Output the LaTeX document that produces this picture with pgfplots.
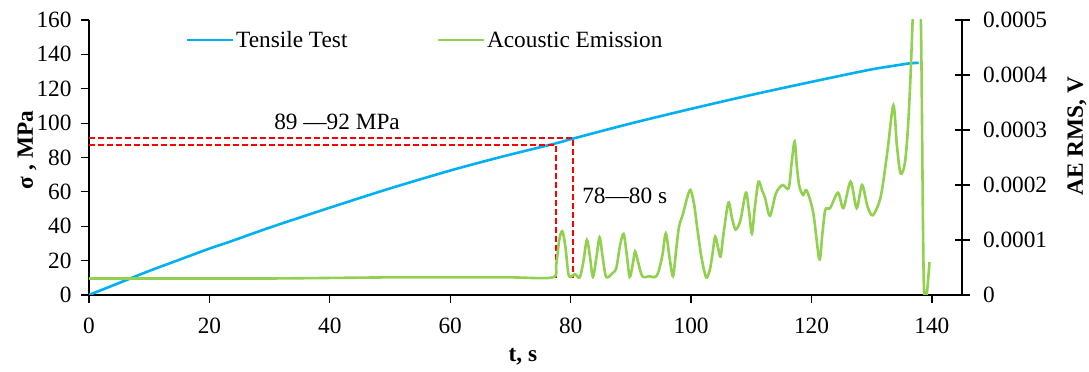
\documentclass[border=0pt]{standalone}
\usepackage{fontspec}
\setmainfont{Liberation Serif}
\usepackage{pgfplots}
\usepackage{pgfplotstable}
\pgfplotsset{compat=1.18}
\definecolor{tblue}{HTML}{00B0F0}
\definecolor{aegreen}{HTML}{92D050}
\definecolor{redline}{HTML}{FF0000}
\newcommand{\fs}{\fontsize{23.3}{28}\selectfont}

\pgfplotstableread{
t s
0 0
5 7
10 14
15 20.5
20 27
23.4 31
30 39.2
40 50.8
50 62
60 72.4
68.3 80.2
77.6 88.3
80.4 91.0
90 99.8
100 108.3
110 116.4
120 124
129.3 130.8
133 133
136.4 134.8
137.8 135
}\tensile

\pgfplotstableread{
t v
0 0.000030
10 0.000030
20 0.000030
30 0.000030
40 0.000031
50 0.000032
60 0.000032
70 0.000032
77.0 0.000032
77.6 0.000055
78.1 0.000100
78.6 0.000116
79.1 0.000090
79.6 0.000040
80.0 0.000033
80.7 0.000038
81.5 0.000032
82.1 0.000060
82.7 0.000100
83.2 0.000070
83.7 0.000033
84.3 0.000070
84.8 0.000105
85.3 0.000070
85.9 0.000033
87.0 0.000040
87.6 0.000050
88.2 0.000090
88.8 0.000111
89.3 0.000075
89.8 0.000033
90.3 0.000055
90.7 0.000079
91.2 0.000060
91.9 0.000034
93.0 0.000034
94.3 0.000035
95.2 0.000070
95.8 0.000112
96.4 0.000070
97.0 0.000034
97.5 0.000080
98.0 0.000124
98.7 0.000149
99.3 0.000175
99.9 0.000191
100.5 0.000165
101.0 0.000124
101.7 0.000070
102.5 0.000032
103.1 0.000045
103.5 0.000070
104.0 0.000106
104.5 0.000085
104.9 0.000070
105.4 0.000112
106.2 0.000168
106.8 0.000140
107.4 0.000119
108.2 0.000136
109.1 0.000186
109.6 0.000155
110.1 0.000112
110.6 0.000160
111.2 0.000206
111.8 0.000190
112.3 0.000176
113.1 0.000144
114.1 0.000185
115.2 0.000200
116.2 0.000194
116.7 0.000240
117.2 0.000279
117.6 0.000230
118.0 0.000197
118.6 0.000182
119.2 0.000190
120.3 0.000149
121.3 0.000065
121.8 0.000110
122.3 0.000155
123.1 0.000158
124.4 0.000186
125.3 0.000158
126.5 0.000206
127.5 0.000158
128.4 0.000200
129.3 0.000161
130.2 0.000145
131.5 0.000179
132.6 0.000260
133.6 0.000345
134.2 0.000270
134.8 0.000221
135.5 0.000239
136.0 0.000300
136.4 0.000385
136.8 0.000500
137.3 0.000650
137.8 0.000560
138.2 0.000480
138.7 0.000003
139.6 0.000060
}\aedata

\begin{document}
\begin{tikzpicture}
\pgfplotsset{
  every axis/.append style={
    width=873pt, height=275pt, scale only axis,
    xmin=0, xmax=145,
    axis line style={black, line width=1.2pt},
    tick style={black, line width=1.2pt},
    major tick length=8pt,
    tick label style={font=\fs},
    label style={font=\fs\bfseries},
    /pgf/number format/assume math mode=true,
  }
}
\begin{axis}[
  axis x line*=bottom, axis y line*=left,
  ymin=0, ymax=160,
  xtick={0,20,...,140}, ytick={0,20,...,160},
  tick align=outside,
  xticklabel style={yshift=-11pt},
  yticklabel style={xshift=-6pt},
  xlabel={t, s}, ylabel={σ , MPa},
  xlabel style={at={(axis description cs:0.497,-0.225)}, anchor=center},
  ylabel style={at={(axis description cs:-0.071,0.527)}, anchor=center},
]
\addplot[tblue, line width=2.6pt, smooth] table[x=t,y=s]{\tensile};
\addplot[color=redline, line width=1.8pt, dash pattern=on 6pt off 3pt] coordinates {(0,91.2) (80.4,91.2) (80.4,9.8)};
\addplot[color=redline, line width=1.8pt, dash pattern=on 6pt off 3pt] coordinates {(0,87.3) (77.6,87.3) (77.6,9.8)};
\node[font=\fs, anchor=base] at (axis cs:41.2,96) {89 —92 MPa};
\node[font=\fs, anchor=base west, inner sep=0pt] at (axis cs:81.9,53.5) {78—80 s};
\end{axis}
\begin{axis}[
  axis x line=none, axis y line*=right,
  ymin=0, ymax=0.0005,
  scaled y ticks=false,
  ytick={0,0.0001,0.0002,0.0003,0.0004,0.0005},
  yticklabels={0,0.0001,0.0002,0.0003,0.0004,0.0005},
  yticklabel style={xshift=10pt},
  tick align=center, major tick length=15pt,
  ylabel={AE RMS, V},
  ylabel style={at={(axis description cs:1.1317,0.578)}, anchor=center},
  legend columns=2,
  legend style={at={(axis description cs:0.111,0.927)}, anchor=west, draw=none, fill=none, font=\fs, inner sep=0pt, nodes={inner sep=1.5pt}},
  legend image code/.code={\draw[#1] (0pt,0pt) -- (46pt,0pt);},
  /tikz/every even column/.append style={column sep=88pt},
]
\addlegendimage{tblue, line width=2.6pt}
\addlegendentry{Tensile Test}
\addplot[aegreen, line width=2.6pt, smooth] table[x=t,y=v]{\aedata};
\addlegendentry{Acoustic Emission}
\end{axis}
\pgfresetboundingbox
\path[use as bounding box] ([shift={(-89pt,-77pt)}]current axis.south west) rectangle ([shift={(127pt,20pt)}]current axis.north east);
\end{tikzpicture}
\end{document}
